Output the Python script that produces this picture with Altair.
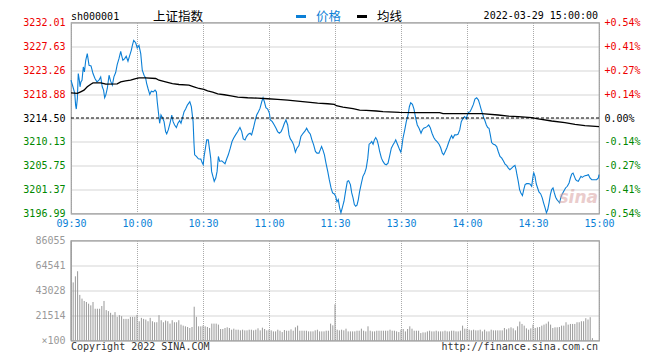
import altair as alt
import pandas as pd

# ---------------- data ----------------
prev_close = 3214.50

price_minutes = [0, 1.1, 1.7, 2.1, 2.4, 2.9, 3.3, 3.8, 4.1, 4.5, 5.0, 5.6, 6.1, 6.7, 7.4, 8.2, 9.1, 10.0, 10.9, 11.8,
                 12.7, 13.5, 14.2, 14.8, 15.3, 15.8, 16.5, 17.3, 18.0, 18.8, 19.5, 20.3, 21.0, 21.8, 22.6, 23.0, 23.6,
                 24.4, 25.1, 25.9, 26.7, 27.4, 27.9, 28.5, 29.4, 30.1, 30.9, 31.7, 32.4, 33.2, 33.9, 34.4, 35.0, 35.8,
                 36.5, 37.4, 38.2, 38.8, 39.2, 39.7, 40.3, 40.9, 41.7, 42.3, 43.0, 43.5, 44.2, 45.0, 45.8, 46.4, 47.1,
                 47.9, 48.6, 49.4, 50.0, 50.6, 51.4, 52.1, 52.9, 54.0, 54.7, 55.5, 55.9, 56.2, 57.0, 57.9, 59.0, 59.7,
                 60.1, 60.5, 61.1, 61.7, 62.4, 63.0, 63.5, 63.9, 64.5, 65.1, 65.8, 66.4, 67.0, 67.6, 68.5, 69.2, 70.0,
                 70.8, 71.5, 72.4, 73.2, 73.9, 74.8, 75.8, 76.8, 77.6, 78.3, 79.1, 79.8, 80.6, 81.4, 82.1, 82.9, 83.6,
                 84.4, 85.2, 85.9, 86.7, 87.3, 87.9, 88.6, 89.4, 90.2, 90.6, 91.5, 92.4, 93.2, 93.9, 94.7, 95.5, 96.2,
                 97.0, 97.7, 98.5, 99.1, 99.7, 100.5, 101.2, 102.0, 102.7, 103.6, 104.5, 105.5, 106.4, 107.1, 107.9,
                 108.8, 109.5, 110.3, 111.1, 111.8, 112.7, 113.3, 113.9, 114.5, 115.2, 115.9, 116.7, 117.4, 118.2,
                 118.9, 119.7, 120.3, 120.9, 121.5, 122.1, 122.7, 123.3, 124.1, 124.8, 125.6, 126.2, 127.0, 127.6,
                 128.2, 128.8, 129.4, 130.0, 130.6, 131.2, 132.0, 132.7, 133.5, 134.2, 134.9, 135.5, 136.1, 136.7,
                 137.3, 137.9, 138.5, 139.1, 139.7, 140.3, 141.1, 141.8, 142.6, 143.3, 144.1, 144.8, 145.6, 146.4,
                 147.1, 147.6, 148.2, 148.8, 149.4, 149.9, 150.3, 150.9, 151.7, 152.4, 153.2, 153.8, 154.4, 155.2,
                 155.9, 156.7, 157.4, 158.2, 159.1, 159.7, 160.3, 161.1, 161.8, 162.6, 163.3, 164.1, 164.9, 165.6,
                 166.4, 167.3, 168.0, 168.8, 169.4, 170.1, 170.9, 171.7, 172.4, 173.0, 173.6, 174.4, 175.1, 175.9,
                 176.7, 177.4, 178.2, 178.9, 179.7, 180.0, 180.6, 181.4, 182.1, 182.9, 183.6, 184.4, 185.2, 185.8,
                 186.4, 187.0, 187.6, 188.2, 188.8, 189.4, 190.0, 190.6, 191.2, 192.0, 192.7, 193.5, 194.2, 195.0,
                 195.8, 196.5, 197.3, 198.0, 198.8, 199.5, 200.3, 201.1, 201.8, 202.3, 202.7, 203.3, 203.9, 204.5,
                 205.2, 205.8, 206.4, 207.1, 207.9, 208.6, 209.4, 209.8, 210.3, 210.9, 211.5, 212.1, 212.7, 213.5,
                 214.2, 214.8, 215.5, 216.1, 216.7, 217.3, 217.9, 218.5, 219.1, 219.7, 220.3, 220.9, 221.5, 222.1,
                 222.7, 223.3, 224.1, 224.8, 225.6, 226.4, 227.0, 227.6, 228.2, 228.8, 229.4, 230.0, 230.6, 231.2,
                 231.8, 232.4, 233.0, 233.6, 234.4, 235.2, 235.9, 236.7, 237.4, 238.2, 238.9, 239.7, 240.0]

price_values = [3221.43, 3219.91, 3219.00, 3216.87, 3216.14, 3218.09, 3222.65, 3221.43, 3220.22, 3221.13, 3221.43,
                3223.86, 3222.95, 3225.08, 3226.30, 3224.17, 3224.05, 3222.65, 3221.74, 3221.13, 3221.43, 3222.04,
                3220.22, 3219.61, 3218.21, 3218.70, 3219.91, 3222.34, 3221.25, 3220.52, 3222.04, 3222.83, 3224.29,
                3225.38, 3226.72, 3225.99, 3225.08, 3225.38, 3225.81, 3224.90, 3225.99, 3226.90, 3227.82, 3228.73,
                3228.30, 3227.33, 3227.82, 3226.30, 3223.26, 3222.34, 3221.86, 3220.82, 3219.91, 3218.82, 3219.42,
                3219.30, 3219.61, 3219.30, 3217.48, 3215.66, 3213.53, 3215.05, 3214.44, 3213.83, 3212.01, 3211.58,
                3212.31, 3213.53, 3215.05, 3213.83, 3213.22, 3212.74, 3213.53, 3214.01, 3213.53, 3214.44, 3215.66,
                3216.14, 3216.87, 3217.48, 3216.57, 3213.83, 3209.88, 3207.75, 3207.45, 3207.02, 3206.96, 3206.23,
                3205.93, 3207.45, 3208.97, 3210.49, 3210.49, 3208.66, 3207.14, 3204.71, 3203.80, 3202.89, 3203.50,
                3204.71, 3207.45, 3206.54, 3206.66, 3206.41, 3206.11, 3207.02, 3207.75, 3208.97, 3210.18, 3210.79,
                3211.40, 3212.01, 3212.74, 3212.01, 3210.67, 3210.49, 3211.10, 3211.52, 3211.70, 3211.40, 3212.62,
                3213.83, 3215.05, 3215.66, 3216.26, 3217.48, 3218.21, 3217.48, 3216.38, 3216.14, 3215.35, 3214.14,
                3213.83, 3213.22, 3212.62, 3212.01, 3211.70, 3212.01, 3212.62, 3213.53, 3214.14, 3213.22, 3211.40,
                3210.67, 3210.18, 3209.58, 3208.24, 3208.97, 3209.45, 3211.10, 3211.70, 3212.13, 3212.62, 3212.01,
                3211.52, 3210.49, 3209.58, 3208.36, 3208.06, 3208.06, 3208.66, 3209.27, 3208.66, 3207.75, 3206.23,
                3204.71, 3203.19, 3201.67, 3200.76, 3200.58, 3200.15, 3199.12, 3199.54, 3198.02, 3197.11, 3198.02,
                3199.24, 3201.06, 3202.89, 3203.01, 3202.28, 3200.76, 3199.85, 3198.63, 3198.33, 3198.51, 3199.54,
                3201.06, 3202.58, 3203.80, 3204.41, 3205.32, 3207.14, 3209.70, 3209.88, 3210.18, 3209.70, 3210.49,
                3210.91, 3210.49, 3209.58, 3208.36, 3207.14, 3206.54, 3206.05, 3205.93, 3206.23, 3207.45, 3208.97,
                3209.58, 3210.06, 3210.49, 3209.88, 3209.27, 3208.66, 3208.24, 3208.97, 3210.79, 3212.31, 3213.83,
                3215.05, 3216.57, 3217.30, 3216.99, 3216.14, 3214.44, 3213.22, 3212.62, 3211.70, 3212.31, 3212.62,
                3212.74, 3212.92, 3213.22, 3212.74, 3211.70, 3210.91, 3210.49, 3210.18, 3209.70, 3209.09, 3208.06,
                3207.75, 3208.36, 3209.09, 3210.06, 3210.79, 3211.28, 3210.79, 3211.40, 3211.40, 3211.52, 3212.31,
                3213.83, 3214.44, 3214.74, 3214.32, 3214.86, 3215.53, 3215.66, 3216.26, 3216.99, 3217.97, 3218.21,
                3217.78, 3216.99, 3216.14, 3215.35, 3214.56, 3213.95, 3213.22, 3212.74, 3212.62, 3211.40, 3210.00,
                3209.70, 3209.58, 3209.27, 3208.36, 3207.45, 3207.14, 3206.66, 3206.05, 3205.81, 3205.32, 3205.02,
                3205.32, 3205.62, 3205.81, 3205.02, 3204.10, 3202.89, 3201.37, 3200.76, 3200.27, 3201.37, 3202.28,
                3202.46, 3202.46, 3202.40, 3201.98, 3203.19, 3204.53, 3203.80, 3202.40, 3201.67, 3200.94, 3200.58,
                3199.85, 3198.94, 3198.02, 3197.11, 3197.72, 3198.94, 3200.46, 3201.37, 3201.67, 3200.76, 3199.97,
                3199.54, 3199.24, 3198.94, 3199.97, 3200.58, 3201.18, 3201.67, 3201.98, 3202.58, 3203.50, 3204.22,
                3204.41, 3203.80, 3203.19, 3203.01, 3202.89, 3203.37, 3203.80, 3203.62, 3203.80, 3203.92, 3203.98,
                3204.10, 3203.50, 3203.19, 3203.19, 3203.19, 3203.19, 3203.50, 3204.10]

avg_minutes = [0, 2.9, 4.4, 5.9, 7.4, 9.0, 10.0, 13.5, 15.0, 15.8, 21.0, 22.6, 24.8, 27.1, 29.4, 30.9, 33.9, 38.5,
               40.0, 43.0, 46.1, 49.1, 53.6, 55.9, 58.2, 60.4, 62.1, 64.4, 66.7, 69.7, 72.7, 75.8, 80.3, 84.8, 89.4,
               93.9, 98.5, 103.0, 107.6, 112.1, 116.7, 119.7, 120.6, 123.6, 128.2, 131.2, 134.2, 138.8, 141.8, 149.4,
               157.0, 167.6, 169.1, 180.5, 186.7, 194.2, 198.8, 203.3, 209.4, 212.4, 218.5, 224.5, 229.1, 233.6, 240.0]
avg_values = [3219.12, 3219.00, 3219.30, 3219.61, 3220.22, 3220.70, 3220.94, 3220.94, 3220.82, 3220.70, 3220.76,
              3221.13, 3221.31, 3221.43, 3221.74, 3221.86, 3221.86, 3221.74, 3221.43, 3221.13, 3220.82, 3220.64,
              3220.52, 3220.22, 3219.91, 3219.73, 3219.49, 3219.24, 3218.94, 3218.76, 3218.57, 3218.33, 3218.21,
              3218.15, 3218.03, 3217.90, 3217.78, 3217.60, 3217.42, 3217.24, 3217.11, 3216.99, 3216.75, 3216.51,
              3216.20, 3215.96, 3215.90, 3215.78, 3215.66, 3215.53, 3215.47, 3215.47, 3215.29, 3215.29, 3215.29,
              3215.05, 3214.86, 3214.74, 3214.56, 3214.32, 3213.95, 3213.65, 3213.34, 3213.10, 3212.92]

# volume (x100), morning from 09:30, afternoon from 13:00
vol_am = [86055, 50000, 55233, 59594, 39245, 36047, 34012, 33140, 31686, 30233, 33140, 27326, 27326, 27326, 29651,
          34012, 26163, 25291, 23837, 22093, 24419, 20349, 21803, 20930, 18605, 18605, 18605, 20349, 20349, 20349,
          22093, 16570, 19477, 18605, 18023, 16570, 19477, 16570, 15698, 15698, 21803, 17442, 15698, 17151, 16570,
          14535, 17442, 15698, 15698, 17442, 13663, 12791, 12209, 11628, 10756, 11628, 29070, 20349, 12209, 12209,
          12791, 12209, 11628, 10756, 14535, 14535, 14535, 13663, 9884, 9884, 10756, 11337, 10756, 9302, 10174,
          9302, 9302, 8721, 9302, 8721, 8721, 9302, 9302, 8721, 9302, 10465, 8721, 11047, 9884, 8721, 9302, 8721,
          7849, 7849, 9302, 8430, 7268, 9012, 8430, 8430, 9593, 8430, 11337, 12791, 8430, 8430, 8430, 8430, 7849,
          7849, 7849, 8721, 9302, 7849, 7849, 7849, 8430, 8430, 14535, 13082]
vol_pm = [31105, 9302, 8721, 9302, 8721, 10174, 7849, 7849, 7849, 7849, 8430, 8430, 10174, 8430, 7849, 12209, 8430,
          7849, 7849, 8430, 8430, 8430, 8430, 8430, 8430, 9302, 8430, 8430, 7849, 7268, 9302, 9884, 7849, 9884,
          12209, 10174, 8430, 8430, 8430, 6395, 6977, 6977, 7849, 8430, 7849, 7849, 8430, 7849, 7849, 7849, 8430,
          7849, 7849, 8430, 8430, 7849, 7849, 8430, 12791, 10174, 10174, 9302, 8721, 9302, 8721, 8721, 9302, 7849,
          9302, 7849, 7849, 9302, 8721, 8721, 8721, 8721, 8721, 10756, 9593, 10465, 11337, 10465, 8721, 12209,
          16279, 14244, 12791, 10465, 9302, 10465, 13663, 10756, 11337, 11628, 12791, 13663, 14535, 16279, 13663,
          10756, 11337, 11337, 11628, 12791, 12791, 15698, 13663, 14244, 14244, 14244, 15698, 15698, 16570, 16570,
          19186, 18023, 20058, 2035]

price_ticks = [3196.99, 3201.37, 3205.75, 3210.13, 3214.50, 3218.88, 3223.26, 3227.63, 3232.01]
vol_ticks = [0, 21514, 43028, 64541, 86055]
time_ticks = [0, 30, 60, 90, 120, 150, 180, 210, 240]
time_labels = ["09:30", "10:00", "10:30", "11:00", "11:30", "13:30", "14:00", "14:30", "15:00"]

code_text = ["sh000001"]
name_text = ["上证指数"]
legend_labels = ["价格", "均线"]
stamp_text = ["2022-03-29 15:00:00"]
footer_left = ["Copyright 2022 SINA.COM"]
footer_right = ["http://finance.sina.com.cn"]

# ---------------- styling ----------------
BLUE = "#0b7fd6"
MONO = "DejaVu Sans Mono"
CJK = "Noto Sans CJK SC"
GRID = "#aaaaaa"
W, H1, H2 = 528, 191, 100

price_df = pd.DataFrame({"minute": price_minutes, "price": price_values})
avg_df = pd.DataFrame({"minute": avg_minutes, "avg": avg_values})
vol_df = pd.DataFrame({
    "minute": list(range(len(vol_am))) + list(range(120, 120 + len(vol_pm))),
    "vol": vol_am + vol_pm,
})
ref_df = pd.DataFrame({"ref": [prev_close]})

up_down_color = {
    "condition": [
        {"test": f"datum.value > {prev_close + 0.005}", "value": "#ee0000"},
        {"test": f"datum.value < {prev_close - 0.005}", "value": "#008800"},
    ],
    "value": "#000000",
}

time_expr = "[" + ",".join(f"'{t}'" for t in time_labels) + "][round(datum.value / 30)]"
pct_expr = (f"abs(datum.value - {prev_close}) < 0.005 ? '0.00%' : "
            f"(datum.value > {prev_close} ? '+' : '-') + "
            f"format(abs(datum.value / {prev_close} - 1) * 100, '.2f') + '%'")

x_scale = alt.Scale(domain=[0, 240], nice=False, zero=False)
x_top = alt.X("minute:Q", scale=x_scale,
              axis=alt.Axis(values=time_ticks, labelExpr=time_expr, grid=True, gridDash=[1, 1],
                            gridColor=GRID, ticks=False, domain=False, labelColor=BLUE, labelFont=MONO,
                            labelFontSize=10, labelPadding=5, labelFlush=False, labelOverlap=False,
                            title=None))
y_scale = alt.Scale(domain=[price_ticks[0], price_ticks[-1]], nice=False, zero=False)

price_line = alt.Chart(price_df).mark_line(color=BLUE, strokeWidth=1.1, interpolate="linear").encode(
    x=x_top,
    y=alt.Y("price:Q", scale=y_scale,
            axis=alt.Axis(values=price_ticks, format=".2f", grid=True, gridDash=[1, 1], gridColor=GRID,
                          ticks=False, domain=False, labelFont=MONO, labelFontSize=10, labelPadding=6,
                          labelColor=up_down_color, labelOverlap=False, title=None,
                          minExtent=62, maxExtent=62)),
)

avg_line = alt.Chart(avg_df).mark_line(color="#000000", strokeWidth=1.3, interpolate="linear").encode(
    x=x_top,
    y=alt.Y("avg:Q", scale=y_scale, axis=None),
)

ref_rule = alt.Chart(ref_df).mark_rule(color="#000000", strokeDash=[3, 2], strokeWidth=1).encode(
    y=alt.Y("ref:Q", scale=y_scale,
            axis=alt.Axis(orient="right", values=price_ticks, labelExpr=pct_expr, grid=False, ticks=False,
                          domain=False, labelFont=MONO, labelFontSize=10, labelPadding=5,
                          labelColor=up_down_color, labelOverlap=False, title=None)),
)

HY = -6
code_lbl = alt.Chart(pd.DataFrame({"t": code_text})).mark_text(
    align="left", baseline="middle", font=MONO, fontSize=10, color="#000").encode(
    x=alt.value(0), y=alt.value(HY), text="t:N")
name_lbl = alt.Chart(pd.DataFrame({"t": name_text})).mark_text(
    align="left", baseline="middle", font=CJK, fontSize=12.5, color="#000").encode(
    x=alt.value(82), y=alt.value(HY), text="t:N")
leg_price_sw = alt.Chart(pd.DataFrame({"t": legend_labels[:1]})).mark_rule(color=BLUE, strokeWidth=3).encode(
    x=alt.value(225), x2=alt.value(235), y=alt.value(HY))
leg_price_lbl = alt.Chart(pd.DataFrame({"t": legend_labels[:1]})).mark_text(
    align="left", baseline="middle", font=CJK, fontSize=12.5, color=BLUE).encode(
    x=alt.value(245), y=alt.value(HY), text="t:N")
leg_avg_sw = alt.Chart(pd.DataFrame({"t": legend_labels[1:]})).mark_rule(color="#000", strokeWidth=3).encode(
    x=alt.value(286), x2=alt.value(296), y=alt.value(HY))
leg_avg_lbl = alt.Chart(pd.DataFrame({"t": legend_labels[1:]})).mark_text(
    align="left", baseline="middle", font=CJK, fontSize=12.5, color="#000").encode(
    x=alt.value(306), y=alt.value(HY), text="t:N")
stamp_lbl = alt.Chart(pd.DataFrame({"t": stamp_text})).mark_text(
    align="right", baseline="middle", font=MONO, fontSize=10, color="#000").encode(
    x=alt.value(527), y=alt.value(HY - 1), text="t:N")
watermark = alt.Chart(pd.DataFrame({"t": ["sina"]})).mark_text(
    align="right", baseline="middle", font="DejaVu Sans", fontSize=17, fontStyle="italic",
    fontWeight="bold", color="#d9a3a3", opacity=0.55).encode(
    x=alt.value(527), y=alt.value(175), text="t:N")

top = alt.layer(
    price_line, avg_line, ref_rule, watermark, code_lbl, name_lbl,
    leg_price_sw, leg_price_lbl, leg_avg_sw, leg_avg_lbl, stamp_lbl,
).resolve_axis(y="independent").properties(width=W, height=H1)

vol_bars = alt.Chart(vol_df).mark_rule(color="#999999", strokeWidth=1).encode(
    x=alt.X("minute:Q", scale=x_scale,
            axis=alt.Axis(values=time_ticks, labels=False, ticks=False, domain=False, grid=True,
                          gridDash=[1, 1], gridColor=GRID, title=None)),
    y=alt.Y("vol:Q", scale=alt.Scale(domain=[0, vol_ticks[-1]], nice=False, zero=True),
            axis=alt.Axis(values=vol_ticks,
                          labelExpr="datum.value == 0 ? '×100' : format(datum.value, 'd')",
                          grid=True, gridDash=[1, 1], gridColor=GRID, ticks=False, domain=False,
                          labelFont=MONO, labelFontSize=10, labelPadding=6, labelColor="#999999",
                          labelOverlap=False, title=None, minExtent=62, maxExtent=62)),
    y2=alt.datum(0),
)
foot_l = alt.Chart(pd.DataFrame({"t": footer_left})).mark_text(
    align="left", baseline="middle", font=MONO, fontSize=10, color="#333").encode(
    x=alt.value(0), y=alt.value(106), text="t:N")
foot_r = alt.Chart(pd.DataFrame({"t": footer_right})).mark_text(
    align="right", baseline="middle", font=MONO, fontSize=10, color="#333").encode(
    x=alt.value(527), y=alt.value(106), text="t:N")

bottom = alt.layer(vol_bars, foot_l, foot_r).properties(width=W, height=H2)

chart = alt.vconcat(top, bottom, spacing=27, bounds="flush").properties(
    padding={"left": 0, "top": 1.5, "right": 5, "bottom": 5},
    background="white",
).configure_view(stroke="#999999", strokeWidth=1.2)

chart.save("out.html", embed_options={"renderer": "svg", "actions": False})
